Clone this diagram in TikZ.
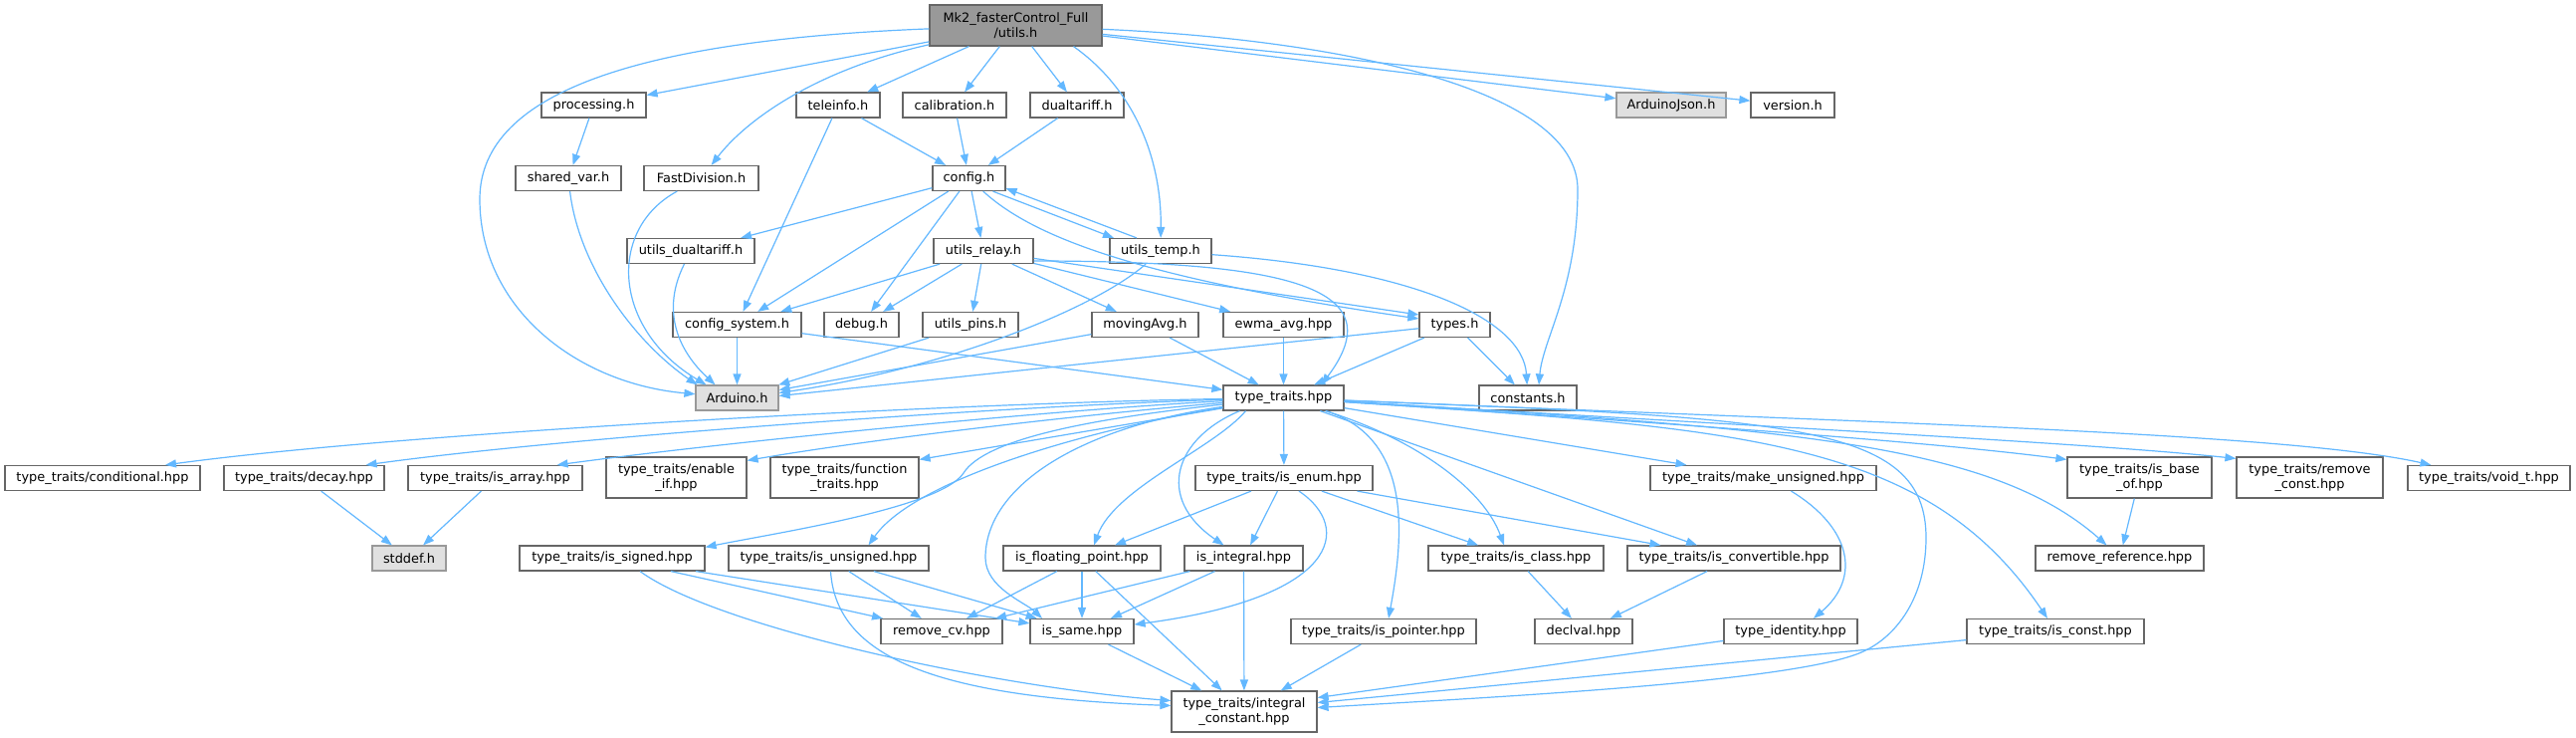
\documentclass[tikz,border=0pt]{standalone}
\usepackage{fontspec}
\setmainfont{DejaVu Sans}
\usetikzlibrary{arrows.meta}
\definecolor{edgec}{HTML}{63B8FF}
\definecolor{bord}{HTML}{666666}
\definecolor{bordl}{HTML}{999999}
\definecolor{mainf}{HTML}{999999}
\definecolor{extf}{HTML}{E0E0E0}
\begin{document}
\begin{tikzpicture}[x=1pt,y=-1pt,
  nbox/.style={draw=bord, fill=white, line width=1.2pt, inner sep=0pt, minimum height=25pt,
    font=\fontsize{12.9}{15}\selectfont, align=center, text=black},
  dbl/.style={minimum height=41pt},
  ext/.style={fill=extf, draw=bordl},
  dep/.style={draw=edgec, line width=1.2pt, -{Triangle[length=11pt,width=8pt]}}]
\useasboundingbox[fill=white] (0,0) rectangle (2588,740);
% nodes
\node[nbox, fill=mainf, dbl, minimum width=173pt] (main) at (1020.5,25.5) {Mk2\_fasterControl\_Full\\/utils.h};
\node[nbox, minimum width=105pt] (processing) at (596.5,105.5) {processing.h};
\node[nbox, minimum width=84pt] (teleinfo) at (842,105.5) {teleinfo.h};
\node[nbox, minimum width=104pt] (calibration) at (959,105.5) {calibration.h};
\node[nbox, minimum width=94pt] (dualtariff) at (1082,105.5) {dualtariff.h};
\node[nbox, ext, minimum width=110pt] (ajson) at (1679,105.5) {ArduinoJson.h};
\node[nbox, minimum width=84pt] (version) at (1801,105.5) {version.h};
\node[nbox, minimum width=106pt] (sharedvar) at (571,179) {shared\_var.h};
\node[nbox, minimum width=115pt] (fastdiv) at (704.5,179) {FastDivision.h};
\node[nbox, minimum width=73pt] (config) at (973.5,179) {config.h};
\node[nbox, minimum width=128pt] (udt) at (694,252) {utils\_dualtariff.h};
\node[nbox, minimum width=100pt] (relay) at (988,252) {utils\_relay.h};
\node[nbox, minimum width=102pt] (utemp) at (1166,252) {utils\_temp.h};
\node[nbox, minimum width=129pt] (csys) at (740.5,326) {config\_system.h};
\node[nbox, minimum width=75pt] (debug) at (865.5,326) {debug.h};
\node[nbox, minimum width=96pt] (pins) at (975,326) {utils\_pins.h};
\node[nbox, minimum width=107pt] (mavg) at (1150.5,326) {movingAvg.h};
\node[nbox, minimum width=121pt] (ewma) at (1289.5,326) {ewma\_avg.hpp};
\node[nbox, minimum width=71pt] (types) at (1461.5,326) {types.h};
\node[nbox, ext, minimum width=83pt] (arduino) at (740.5,399.5) {Arduino.h};
\node[nbox, minimum width=121pt] (tt) at (1289.5,399.5) {type\_traits.hpp};
\node[nbox, minimum width=98pt] (constants) at (1535,399.5) {constants.h};
\node[nbox, minimum width=196pt] (cond) at (103,480) {type\_traits/conditional.hpp};
\node[nbox, minimum width=161pt] (decay) at (305.5,480) {type\_traits/decay.hpp};
\node[nbox, minimum width=175pt] (isarray) at (497.5,480) {type\_traits/is\_array.hpp};
\node[nbox, dbl, minimum width=141pt] (enableif) at (679.5,479.5) {type\_traits/enable\\\_if.hpp};
\node[nbox, dbl, minimum width=149pt] (functr) at (848.5,479.5) {type\_traits/function\\\_traits.hpp};
\node[nbox, minimum width=178pt] (isenum) at (1290,480) {type\_traits/is\_enum.hpp};
\node[nbox, minimum width=227pt] (makeuns) at (1771.5,480) {type\_traits/make\_unsigned.hpp};
\node[nbox, dbl, minimum width=145pt] (isbase) at (2149.5,479.5) {type\_traits/is\_base\\\_of.hpp};
\node[nbox, dbl, minimum width=147pt] (remconst) at (2320.5,479.5) {type\_traits/remove\\\_const.hpp};
\node[nbox, minimum width=163pt] (voidt) at (2500.5,480) {type\_traits/void\_t.hpp};
\node[nbox, ext, minimum width=74pt] (stddef) at (411,560.5) {stddef.h};
\node[nbox, minimum width=186pt] (issigned) at (615,560.5) {type\_traits/is\_signed.hpp};
\node[nbox, minimum width=201pt] (isuns) at (832.5,560.5) {type\_traits/is\_unsigned.hpp};
\node[nbox, minimum width=158pt] (isfp) at (1087,560.5) {is\_floating\_point.hpp};
\node[nbox, minimum width=119pt] (isint) at (1249.5,560.5) {is\_integral.hpp};
\node[nbox, minimum width=176pt] (isclass) at (1523,560.5) {type\_traits/is\_class.hpp};
\node[nbox, minimum width=214pt] (isconv) at (1742,560.5) {type\_traits/is\_convertible.hpp};
\node[nbox, minimum width=169pt] (remref) at (2129.5,560.5) {remove\_reference.hpp};
\node[nbox, minimum width=122pt] (remcv) at (946,634) {remove\_cv.hpp};
\node[nbox, minimum width=104pt] (issame) at (1087,634) {is\_same.hpp};
\node[nbox, minimum width=186pt] (isptr) at (1390,634) {type\_traits/is\_pointer.hpp};
\node[nbox, minimum width=98pt] (declval) at (1591,634) {declval.hpp};
\node[nbox, minimum width=134pt] (typeid) at (1799,634) {type\_identity.hpp};
\node[nbox, minimum width=178pt] (isconst) at (2065,634) {type\_traits/is\_const.hpp};
\node[nbox, dbl, minimum width=146pt] (intconst) at (1250,714.5) {type\_traits/integral\\\_constant.hpp};
% edges from utils.h
\draw[dep] (main) .. controls (650,40) and (482,90) .. (482,200) .. controls (482,310) and (580,385) .. (arduino);
\draw[dep] (main) -- (processing);
\draw[dep] (main) .. controls (820,70) and (750,120) .. (fastdiv);
\draw[dep] (main) -- (teleinfo);
\draw[dep] (main) -- (calibration);
\draw[dep] (main) -- (dualtariff);
\draw[dep] ([xshift=58pt]main.south) .. controls (1140,90) and (1167,160) .. (utemp);
\draw[dep] (main) .. controls (1350,40) and (1585,90) .. (1585,190) .. controls (1585,290) and (1550,340) .. ([xshift=11pt]constants.north);
\draw[dep] (main) -- (ajson);
\draw[dep] (main) -- (version);
% second level
\draw[dep] (processing) -- (sharedvar);
\draw[dep] (sharedvar) .. controls (582,270) and (640,345) .. ([xshift=-40pt]arduino.north);
\draw[dep] (fastdiv) .. controls (610,230) and (615,330) .. ([xshift=-31pt]arduino.north);
\draw[dep] (udt) .. controls (660,320) and (690,360) .. ([xshift=-22pt]arduino.north);
\draw[dep] (teleinfo) -- (config);
\draw[dep] (teleinfo) -- (csys);
\draw[dep] (calibration) -- (config);
\draw[dep] (dualtariff) -- (config);
\draw[dep] (config) -- (udt);
\draw[dep] (config) -- (csys);
\draw[dep] (config) -- (debug);
\draw[dep] (config) -- (relay);
\draw[dep] ([xshift=24pt]config.south) -- ([xshift=-47pt]utemp.north);
\draw[dep] ([xshift=-24pt]utemp.north) -- ([yshift=3pt]config.south east);
\draw[dep] (config) .. controls (1040,240) and (1150,280) .. ([yshift=6pt]types.west);
\draw[dep] (relay) -- ([yshift=10pt]types.west);
\draw[dep] ([yshift=-10pt]relay.east) .. controls (1300,262) and (1400,290) .. ([xshift=38pt]tt.north);
\draw[dep] (relay) -- (csys);
\draw[dep] (relay) -- (debug);
\draw[dep] (relay) -- (pins);
\draw[dep] (relay) -- (mavg);
\draw[dep] (relay) -- (ewma);
\draw[dep] (utemp) .. controls (1100,310) and (950,370) .. ([yshift=5pt]arduino.east);
\draw[dep] (utemp) .. controls (1420,270) and (1530,320) .. (constants);
\draw[dep] (csys) -- (arduino);
\draw[dep] (csys) -- (tt);
\draw[dep] (pins) -- (arduino);
\draw[dep] (mavg) -- ([yshift=8pt]arduino.east);
\draw[dep] (mavg) -- (tt);
\draw[dep] (ewma) -- (tt);
\draw[dep] (types) -- ([yshift=2pt]arduino.east);
\draw[dep] (types) -- (tt);
\draw[dep] (types) -- (constants);
% type_traits.hpp
\draw[dep] (tt) .. controls (950,405) and (400,435) .. ([xshift=63pt]cond.north);
\draw[dep] (tt) .. controls (1000,408) and (560,440) .. ([xshift=62pt]decay.north);
\draw[dep] (tt) .. controls (1050,412) and (720,445) .. ([xshift=62pt]isarray.north);
\draw[dep] (tt) .. controls (1100,415) and (880,440) .. ([yshift=-4pt]enableif.north east);
\draw[dep] (tt) -- ([yshift=-3pt]functr.north east);
\draw[dep] (tt) .. controls (1100,420) and (990,440) .. (968,475) .. controls (945,510) and (780,535) .. ([yshift=-2pt]issigned.north east);
\draw[dep] (tt) .. controls (1100,430) and (920,480) .. ([xshift=40pt]isuns.north);
\draw[dep] (tt) .. controls (1080,430) and (990,490) .. (990,560) .. controls (990,590) and (1030,605) .. ([xshift=-40pt]issame.north);
\draw[dep] ([xshift=-38pt]tt.south) .. controls (1220,450) and (1120,490) .. ([xshift=12pt]isfp.north);
\draw[dep] ([xshift=-44pt]tt.south) .. controls (1180,440) and (1160,500) .. ([xshift=-20pt]isint.north);
\draw[dep] (tt) -- (isenum);
\draw[dep] (tt) .. controls (1420,440) and (1410,540) .. ([xshift=5pt]isptr.north);
\draw[dep] (tt) .. controls (1420,440) and (1490,490) .. ([xshift=-12pt]isclass.north);
\draw[dep] (tt) -- ([xshift=-37pt]isconv.north);
\draw[dep] (tt) -- ([xshift=-77pt]makeuns.north);
\draw[dep] (tt) .. controls (1750,430) and (1950,445) .. ([yshift=-3pt]isbase.north west);
\draw[dep] (tt) .. controls (1800,430) and (2100,445) .. ([yshift=-2pt]remconst.north west);
\draw[dep] (tt) .. controls (1900,425) and (2300,435) .. ([xshift=-58pt]voidt.north);
\draw[dep] (tt) .. controls (1800,430) and (2000,445) .. ([xshift=-13pt]remref.north);
\draw[dep] (tt) .. controls (1750,430) and (1935,440) .. ([xshift=-8pt]isconst.north);
\draw[dep] (tt) .. controls (1800,420) and (1935,425) .. (1935,540) .. controls (1935,600) and (1905,640) .. (1870,655) .. controls (1800,685) and (1500,700) .. ([yshift=4pt]intconst.east);
% lower levels
\draw[dep] (decay) -- (stddef);
\draw[dep] (isarray) -- (stddef);
\draw[dep] (issigned) -- (remcv);
\draw[dep] (issigned) -- (issame);
\draw[dep] ([xshift=28pt]issigned.south) .. controls (720,630) and (1000,690) .. ([yshift=11pt]intconst.west);
\draw[dep] (isuns) -- (remcv);
\draw[dep] (isuns) -- (issame);
\draw[dep] ([xshift=2pt]isuns.south) .. controls (840,660) and (940,700) .. ([yshift=6pt]intconst.west);
\draw[dep] (isfp) -- (remcv);
\draw[dep] (isfp) -- (issame);
\draw[dep] (isfp) -- (intconst);
\draw[dep] (isint) -- (remcv);
\draw[dep] (isint) -- (issame);
\draw[dep] (isint) -- (intconst);
\draw[dep] (issame) -- (intconst);
\draw[dep] (isptr) -- (intconst);
\draw[dep] (isclass) -- (declval);
\draw[dep] (isconv) -- (declval);
\draw[dep] (isenum) -- (isfp);
\draw[dep] (isenum) -- (isint);
\draw[dep] ([xshift=15pt]isenum.south) .. controls (1360,530) and (1345,600) .. (issame);
\draw[dep] (isenum) -- (isclass);
\draw[dep] (isenum) -- (isconv);
\draw[dep] ([xshift=28pt]makeuns.south) .. controls (1860,530) and (1870,580) .. ([xshift=23pt]typeid.north);
\draw[dep] (typeid) -- ([yshift=14pt]intconst.east);
\draw[dep] (isconst) -- ([yshift=9pt]intconst.east);
\draw[dep] (isbase) -- (remref);
\end{tikzpicture}
\end{document}
